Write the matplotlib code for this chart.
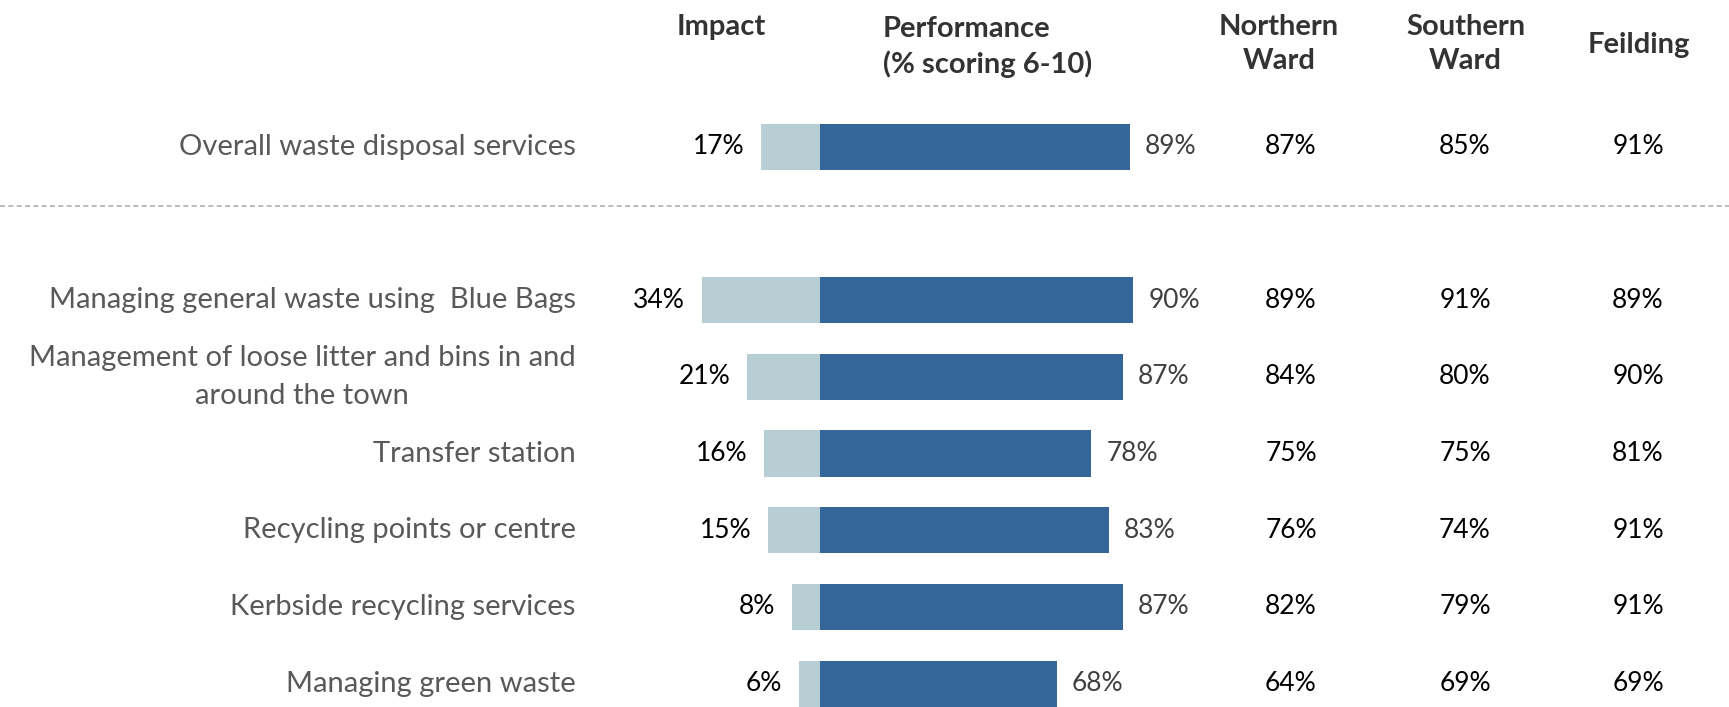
import matplotlib
matplotlib.use("Agg")
import matplotlib.pyplot as plt
from matplotlib.lines import Line2D
from matplotlib.transforms import blended_transform_factory

categories = [
    "Overall waste disposal services",
    "Managing general waste using  Blue Bags",
    "Management of loose litter and bins in and\naround the town",
    "Transfer station",
    "Recycling points or centre",
    "Kerbside recycling services",
    "Managing green waste",
]
impact = [17, 34, 21, 16, 15, 8, 6]
performance = [89, 90, 87, 78, 83, 87, 68]
northern = [87, 89, 84, 75, 76, 82, 64]
southern = [85, 91, 80, 75, 74, 79, 69]
feilding = [91, 89, 90, 81, 91, 91, 69]
headers = ["Impact", "Performance\n(% scoring 6-10)", "Northern\nWard", "Southern\nWard", "Feilding"]
rows = [0, 2, 3, 4, 5, 6, 7]

plt.rcParams["font.family"] = ["Lato", "DejaVu Sans"]

W, H = 1729, 707
fig = plt.figure(figsize=(W / 100, H / 100), dpi=100)
fig.patch.set_facecolor("white")

px_per = 3.48
zero_px = 820
xmin, xmax = -40, 100
left = (zero_px + xmin * px_per) / W
width = (xmax - xmin) * px_per / W
ax = fig.add_axes([left, 0, width, 1])
row_h = 76.7
top_row_px = 146.7
ax.set_xlim(xmin, xmax)
ax.set_ylim((H - top_row_px) / row_h, -top_row_px / row_h)
ax.axis("off")

dark = "#346699"
light = "#b6ced4"
bh = 0.6
ax.barh(rows, [-v for v in impact], height=bh, color=light, edgecolor="none")
ax.barh(rows, performance, height=bh, color=dark, edgecolor="none")

num_fs = 19
for r, v in zip(rows, impact):
    ax.annotate(f"{v}%", xy=(-v, r), xytext=(-12, 0), textcoords="offset points",
                ha="right", va="center", fontsize=num_fs, color="#000000")
for r, v in zip(rows, performance):
    ax.annotate(f"{v}%", xy=(v, r), xytext=(11, 0), textcoords="offset points",
                ha="left", va="center", fontsize=num_fs, color="#404040")

trans = blended_transform_factory(fig.transFigure, ax.transData)
for r, c in zip(rows, categories):
    ax.text(575.6 / W, r, c, transform=trans, ha="right", va="center",
            multialignment="center", fontsize=21, color="#595959",
            linespacing=1.55, clip_on=False)

col_x = [1291 / W, 1465 / W, 1638 / W]
for xs, vals in zip(col_x, [northern, southern, feilding]):
    for r, v in zip(rows, vals):
        ax.text(xs, r, f"{v}%", transform=trans, ha="center", va="center",
                fontsize=num_fs, color="#000000", clip_on=False)

hdr_fs = 21
hc = "#333333"
ls = 1.4
fig.text(721 / W, 1 - 26.5 / H, headers[0], ha="center", va="center",
         fontsize=hdr_fs, fontweight="bold", color=hc)
fig.text(883 / W, 1 - 47 / H, headers[1], ha="left", va="center",
         fontsize=hdr_fs, fontweight="bold", color=hc, linespacing=ls)
fig.text(1279 / W, 1 - 43.8 / H, headers[2], ha="center", va="center",
         fontsize=hdr_fs, fontweight="bold", color=hc, linespacing=ls)
fig.text(1465.5 / W, 1 - 43.8 / H, headers[3], ha="center", va="center",
         fontsize=hdr_fs, fontweight="bold", color=hc, linespacing=ls)
fig.text(1638.5 / W, 1 - 44.5 / H, headers[4], ha="center", va="center",
         fontsize=hdr_fs, fontweight="bold", color=hc)

sep_y = (206 - top_row_px) / row_h
fig.add_artist(Line2D([0, 1], [sep_y, sep_y], transform=trans, color="#b0b0b0",
                      linewidth=1.2, linestyle=(0, (3, 2))))

fig.savefig("out.png", dpi=100, facecolor="white")
